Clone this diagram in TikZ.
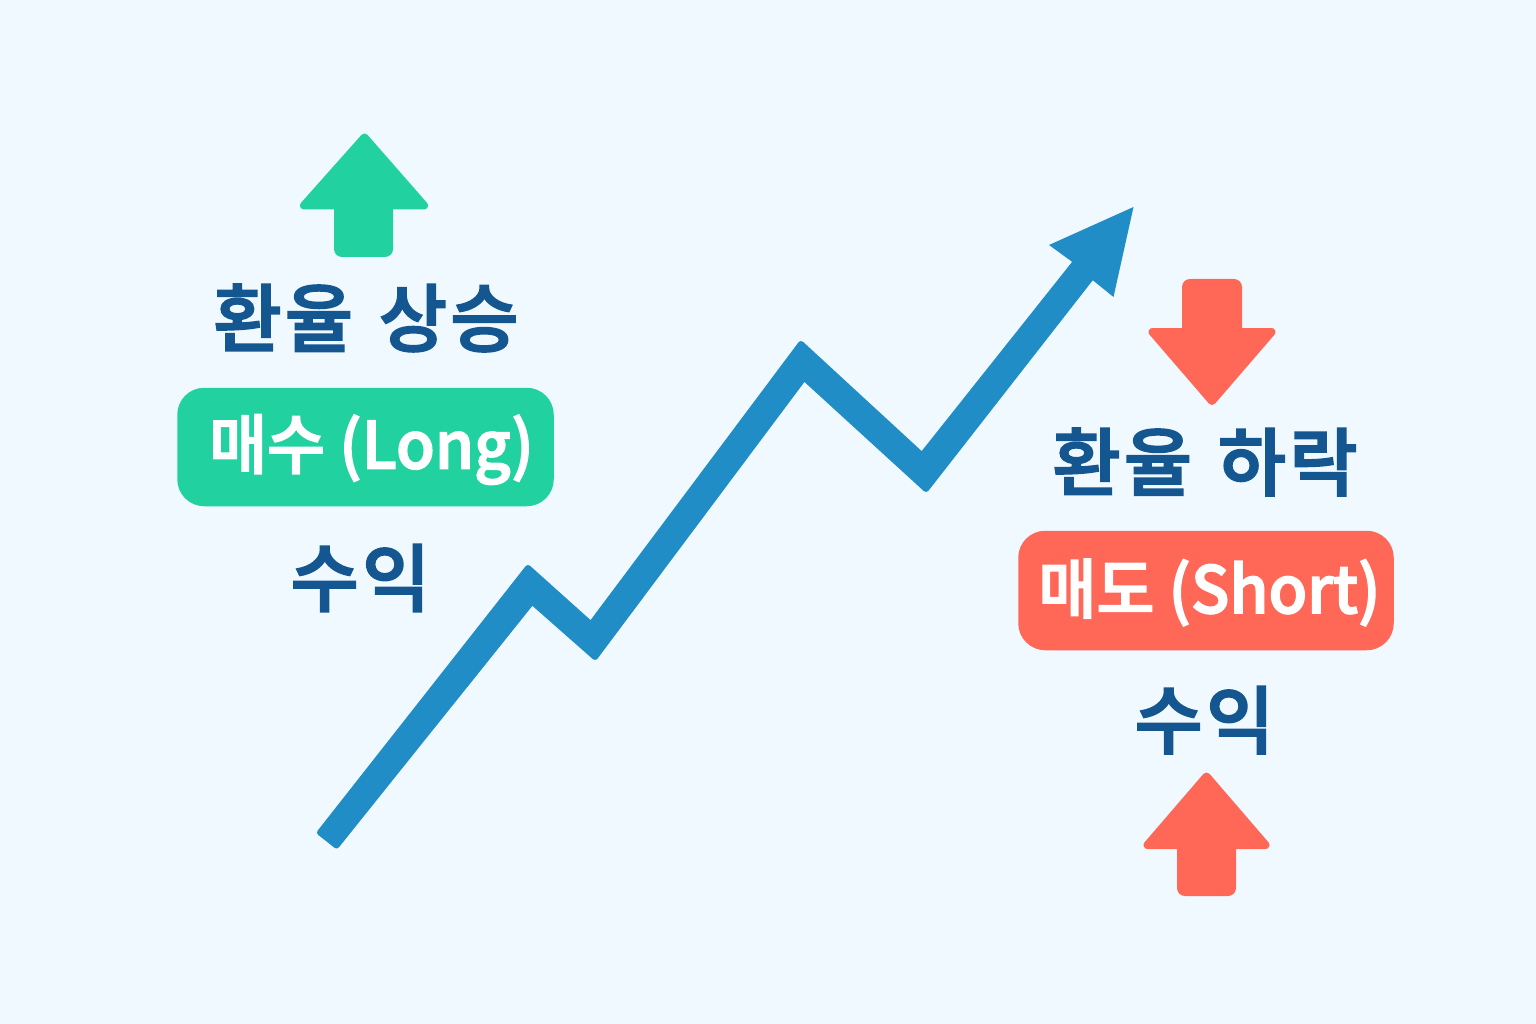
\documentclass[tikz,border=0pt]{standalone}
\usepackage{fontspec}
\newfontfamily\kr{Noto Sans CJK KR Medium}[LetterSpace=4.5,FakeBold=2.5]
\newfontfamily\krl{Noto Sans CJK KR Medium}[FakeStretch=0.97,FakeBold=2.5]
\definecolor{bgc}{HTML}{F0F9FF}
\definecolor{grn}{HTML}{21D19F}
\definecolor{red1}{HTML}{FF6757}
\definecolor{blu}{HTML}{218DC6}
\definecolor{txt}{HTML}{14568F}
\tikzset{
 px/.style={x=1pt,y=-1pt},
 head/.style={font=\kr\fontsize{74}{74}\selectfont,text=txt,inner sep=0pt,anchor=center},
 lab/.style={font=\krl\fontsize{65}{65}\selectfont,text=white,inner sep=0pt,anchor=center},
 pill/.style={draw=none,rounded corners=27pt,inner sep=0pt},
 barb/.style={line join=round,line width=8pt},
 shaft/.style={rounded corners=8pt},
}
\begin{document}
\begin{tikzpicture}[px]
\useasboundingbox (0,0) rectangle (1536,1024);
\fill[bgc] (0,0) rectangle (1536,1024);
% zigzag
\path[fill=blu,draw=blu,line join=round,line width=6pt] (320,832.5) -- (528,568) -- (591,624.5) -- (801,344) -- (922,455.5) -- (1080.6,256) -- (1096.8,270.2) -- (926,489) -- (804,377.5) -- (595,657) -- (532,601.5) -- (336.5,845.5) -- cycle;
\fill[blu] (1071,261) -- (1049,245) -- (1133.5,207) -- (1113.5,297) -- (1093.3,280.7) -- cycle;
% arrows
\path[fill=grn,draw=grn,barb] (364.5,137.5) -- (304,205.5) -- (424,205.5) -- cycle;
\fill[grn,shaft] (334,195) -- (393,195) -- (393,257) -- (334,257) -- cycle;
\path[fill=red1,draw=red1,barb] (1212,401) -- (1152.5,332) -- (1271.5,332) -- cycle;
\fill[red1,shaft] (1182,340) -- (1182,279) -- (1242,279) -- (1242,340) -- cycle;
\path[fill=red1,draw=red1,barb] (1206.5,776.5) -- (1147.5,845) -- (1265.5,845) -- cycle;
\fill[red1,shaft] (1177,835) -- (1236,835) -- (1236,896) -- (1177,896) -- cycle;
% pills
\node[pill,fill=grn,minimum width=376.5pt,minimum height=118.5pt] (long) at (365.5,447) {};
\node[pill,fill=red1,minimum width=375.5pt,minimum height=119.5pt] (short) at (1206,590.5) {};
\node[lab] (t1) at (371.5,449.5) {매수 (Long)};
\node[lab] (t2) at (1209.5,592.5) {매도 (Short)};
\node[head] (h1) at (366,318) {환율\hspace{6pt} 상승};
\node[head] (h2) at (1205,462) {환율\hspace{6pt} 하락};
\node[head] (p1) at (360.5,578) {수익};
\node[head] (p2) at (1204.5,720) {수익};
\end{tikzpicture}
\end{document}
